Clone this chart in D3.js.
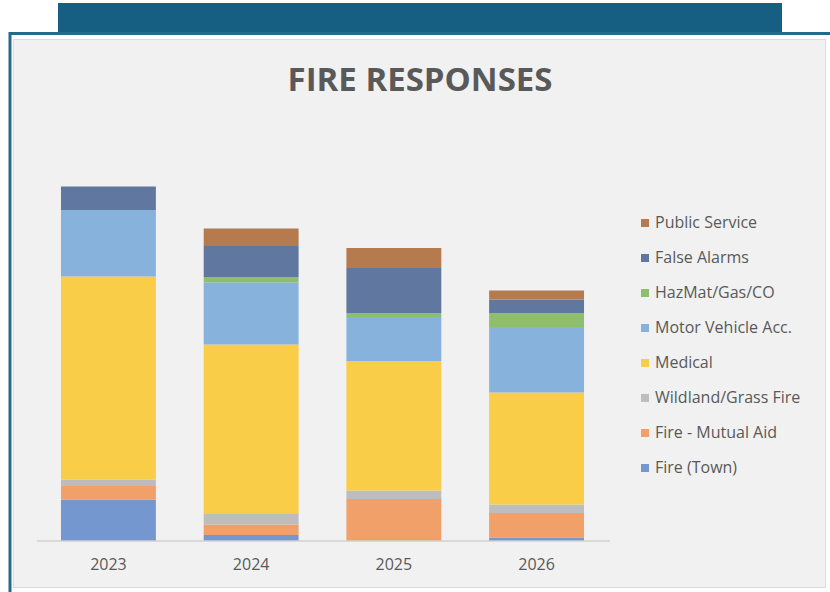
<!DOCTYPE html>
<html>
<head>
<meta charset="utf-8">
<script src="https://cdn.jsdelivr.net/npm/d3@7"></script>
<style>
  html, body { margin: 0; padding: 0; background: #ffffff; }
  svg { display: block; }
</style>
</head>
<body>
<svg id="chart" width="830" height="592"></svg>
<script>
// Fire department responses by year, stacked by call type
const years = ["2023", "2024", "2025", "2026"];
const seriesNames = ["Fire (Town)", "Fire - Mutual Aid", "Wildland/Grass Fire", "Medical",
                     "Motor Vehicle Acc.", "HazMat/Gas/CO", "False Alarms", "Public Service"];
const fireTown      = [83, 12, 0, 7];
const fireMutualAid = [27, 21, 84, 49];
const wildland      = [13, 21, 17, 17];
const medical       = [406, 339, 259, 224];
const motorVehicle  = [133, 124, 88, 131];
const hazmat        = [0, 11, 8, 28];
const falseAlarms   = [47, 62, 90, 27];
const publicService = [0, 35, 40, 18];
const seriesColors  = ["#7497d0", "#f0a068", "#bdbdbd", "#f9cd48",
                       "#87b2dc", "#8fbe6f", "#60789f", "#b67a4f"];

const seriesValues = [fireTown, fireMutualAid, wildland, medical,
                      motorVehicle, hazmat, falseAlarms, publicService];
const rows = years.map((yr, i) => {
  const r = { year: yr };
  seriesNames.forEach((s, k) => { r[s] = seriesValues[k][i]; });
  return r;
});

const svg = d3.select("#chart");
const textColor = "#595959";

// Header banner and framed panel
svg.append("rect").attr("x", 58).attr("y", 3).attr("width", 724).attr("height", 30)
  .attr("fill", "#175f82");
svg.append("path").attr("d", "M10,592 V33.5 H830")
  .attr("fill", "none").attr("stroke", "#256a8b").attr("stroke-width", 3);
svg.append("rect").attr("x", 13.5).attr("y", 39.5).attr("width", 812).attr("height", 548)
  .attr("fill", "#f1f1f1").attr("stroke", "#dcdcdc").attr("stroke-width", 1);

// Title
svg.append("text").attr("x", 420).attr("y", 91)
  .attr("text-anchor", "middle")
  .attr("font-family", "'Open Sans', sans-serif")
  .attr("font-weight", "bold").attr("font-size", 33)
  .attr("fill", textColor)
  .text("FIRE RESPONSES");

// Scales
const x = d3.scaleBand().domain(years).range([37, 608]).paddingInner(0.335).paddingOuter(0.168);
const y = d3.scaleLinear().domain([0, 800]).range([541, 141]);
const color = d3.scaleOrdinal().domain(seriesNames).range(seriesColors);

const stacked = d3.stack().keys(seriesNames)(rows);

svg.append("g").selectAll("g").data(stacked).join("g")
  .attr("fill", d => color(d.key))
  .selectAll("rect").data(d => d).join("rect")
  .attr("x", d => x(d.data.year))
  .attr("width", x.bandwidth())
  .attr("y", d => y(d[1]))
  .attr("height", d => y(d[0]) - y(d[1]));

// Category axis
const xAxis = svg.append("g").attr("transform", "translate(0,541)")
  .call(d3.axisBottom(x).tickSize(0).tickSizeOuter(0).tickPadding(18));
xAxis.select(".domain").attr("stroke", "#d0d0d0").attr("stroke-width", 1.5)
  .attr("d", "M37,0H610");
xAxis.selectAll("text")
  .attr("font-family", "'Open Sans', sans-serif")
  .attr("font-size", 16)
  .attr("fill", textColor);

// Legend, top entry is the top of the stack
const legendItems = seriesNames.slice().reverse();
const legend = svg.append("g").selectAll("g").data(legendItems).join("g")
  .attr("transform", (d, i) => `translate(641, ${222 + i * 35})`);
legend.append("rect").attr("x", 0).attr("y", -3).attr("width", 8).attr("height", 8)
  .attr("fill", d => color(d));
legend.append("text").attr("x", 14).attr("y", 6)
  .attr("font-family", "'Open Sans', sans-serif")
  .attr("font-size", 16)
  .attr("fill", textColor)
  .text(d => d);
</script>
</body>
</html>
